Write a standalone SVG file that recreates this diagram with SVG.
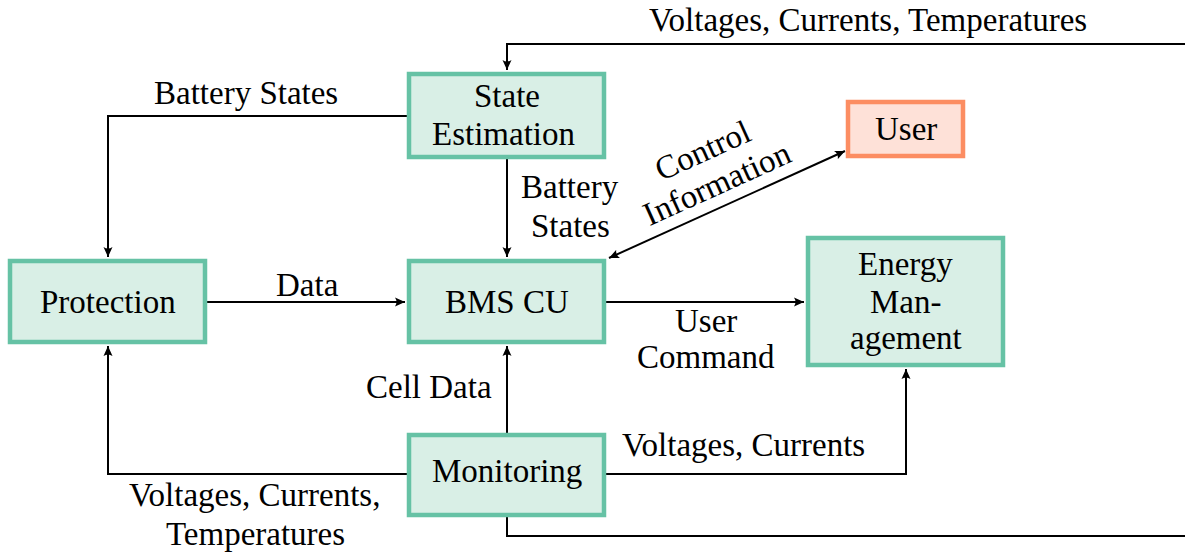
<svg xmlns="http://www.w3.org/2000/svg" width="1185" height="554" viewBox="0 0 1185 554">
<defs>
<marker id="ah" viewBox="-10 -5 12 10" refX="0" refY="0" markerWidth="12" markerHeight="10" markerUnits="userSpaceOnUse" orient="auto-start-reverse">
<path d="M0,0 L-10,-4.5 Q-7,0 -10,4.5 Z" fill="#000"/>
</marker>
</defs>
<rect width="1185" height="554" fill="#fff"/>
<g id="connectors" fill="none" stroke="#000" stroke-width="2">
<path d="M1185,44 H507 V70" marker-end="url(#ah)"/>
<path d="M407,116 H108 V257" marker-end="url(#ah)"/>
<path d="M507,159 V257" marker-end="url(#ah)"/>
<path d="M207,302 H405" marker-end="url(#ah)"/>
<path d="M606,302 H804" marker-end="url(#ah)"/>
<path d="M609,258 L845,151" marker-start="url(#ah)" marker-end="url(#ah)"/>
<path d="M507,433 V346" marker-end="url(#ah)"/>
<path d="M407,474 H108 V346" marker-end="url(#ah)"/>
<path d="M606,474 H906 V369" marker-end="url(#ah)"/>
<path d="M507,517 V536 H1185"/>
</g>
<text x="649" y="31" font-family="Liberation Serif" font-size="33">Voltages, Currents, Temperatures</text>
<text x="154" y="104" font-family="Liberation Serif" font-size="33">Battery States</text>
<text x="521" y="198" font-family="Liberation Serif" font-size="33">Battery</text>
<text x="531" y="237" font-family="Liberation Serif" font-size="33">States</text>
<text x="276" y="296" font-family="Liberation Serif" font-size="33">Data</text>
<text x="675" y="332" font-family="Liberation Serif" font-size="33">User</text>
<text x="637" y="368" font-family="Liberation Serif" font-size="33">Command</text>
<text x="366" y="398" font-family="Liberation Serif" font-size="33">Cell Data</text>
<text x="622" y="456" font-family="Liberation Serif" font-size="33">Voltages, Currents</text>
<text x="129" y="506" font-family="Liberation Serif" font-size="33">Voltages, Currents,</text>
<text x="166" y="545" font-family="Liberation Serif" font-size="33">Temperatures</text>
<text x="-50" y="-8" transform="translate(710,168) rotate(-24.4)" font-family="Liberation Serif" font-size="33">Control</text>
<text x="-79" y="28" transform="translate(710,168) rotate(-24.4)" font-family="Liberation Serif" font-size="33">Information</text>
<g id="state-estimation">
<rect x="409" y="74" width="195" height="83" fill="#d9efe6" stroke="#66c2a5" stroke-width="4.5"/>
<text x="474" y="107" font-family="Liberation Serif" font-size="33">State</text>
<text x="432" y="145" font-family="Liberation Serif" font-size="33">Estimation</text>
</g>
<g id="user">
<rect x="848" y="102" width="115" height="54" fill="#fee1d8" stroke="#fc8d62" stroke-width="4.5"/>
<text x="875" y="140" font-family="Liberation Serif" font-size="33">User</text>
</g>
<g id="protection">
<rect x="10" y="261" width="195" height="81" fill="#d9efe6" stroke="#66c2a5" stroke-width="4.5"/>
<text x="40" y="313" font-family="Liberation Serif" font-size="33">Protection</text>
</g>
<g id="bms-cu">
<rect x="409" y="261" width="195" height="81" fill="#d9efe6" stroke="#66c2a5" stroke-width="4.5"/>
<text x="445" y="313" font-family="Liberation Serif" font-size="33">BMS CU</text>
</g>
<g id="energy-management">
<rect x="808" y="238" width="195" height="127" fill="#d9efe6" stroke="#66c2a5" stroke-width="4.5"/>
<text x="858" y="275" font-family="Liberation Serif" font-size="33">Energy</text>
<text x="870" y="313" font-family="Liberation Serif" font-size="33">Man-</text>
<text x="850" y="349" font-family="Liberation Serif" font-size="33">agement</text>
</g>
<g id="monitoring">
<rect x="409" y="435" width="195" height="80" fill="#d9efe6" stroke="#66c2a5" stroke-width="4.5"/>
<text x="432" y="482" font-family="Liberation Serif" font-size="33">Monitoring</text>
</g>
</svg>
